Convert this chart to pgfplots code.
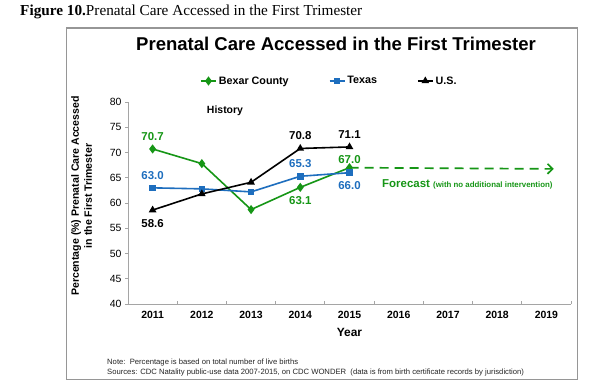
\documentclass[border=0pt]{standalone}
\usepackage{fontspec}
\setmainfont{Liberation Sans}
\newfontfamily\seriffont{Liberation Serif}
\usepackage{pgfplots}
\pgfplotsset{compat=1.18}
\usetikzlibrary{arrows.meta}
\definecolor{bexar}{RGB}{22,150,22}
\definecolor{texas}{RGB}{30,110,190}
\definecolor{axgray}{RGB}{165,165,165}
\definecolor{boxgray}{RGB}{150,150,150}
\begin{document}
\begin{tikzpicture}[x=1bp,y=1bp]
\useasboundingbox (0,0) rectangle (600,388);
\fill[white] (0,0) rectangle (600,388);
\draw[boxgray, line width=1bp] (66,9) rectangle (577,360);
\node[anchor=west, font=\seriffont\fontsize{15.3}{17}\selectfont, inner sep=0] at (20,376) {\textbf{Figure 10.}Prenatal Care Accessed in the First Trimester};
\node[font=\bfseries\fontsize{18.6}{21}\selectfont, inner sep=0] at (336,344) {Prenatal Care Accessed in the First Trimester};
\begin{axis}[
  at={(128bp,84bp)}, anchor=south west, scale only axis,
  width=443bp, height=202bp,
  xmin=2010.5, xmax=2019.5, ymin=40, ymax=80,
  axis x line=bottom, axis y line=left,
  axis line style={-, axgray, line width=0.8bp},
  xtick={2011,2012,2013,2014,2015,2016,2017,2018,2019},
  xticklabels={2011,2012,2013,2014,2015,2016,2017,2018,2019},
  minor xtick={2011.5,2012.5,2013.5,2014.5,2015.5,2016.5,2017.5,2018.5,2019.5},
  major x tick style={draw=none},
  minor x tick style={axgray, line width=0.8bp, yshift=3bp},
  minor tick length=3bp,
  ytick={40,45,...,80},
  major y tick style={axgray, line width=0.8bp},
  major tick length=3bp,
  tick align=outside,
  /pgf/number format/assume math mode=true,
  xticklabel style={font=\bfseries\fontsize{10.5}{12}\selectfont, yshift=-1bp},
  yticklabel style={font=\fontsize{10.5}{12}\selectfont},
  clip=false,
  legend style={at={(axis description cs:0.1625,1.104)}, anchor=west, draw=none, fill=none,
    inner sep=0pt, font=\bfseries\fontsize{10.8}{12}\selectfont,
    /tikz/every even column/.append style={column sep=38bp}},
  legend columns=3,
  legend image code/.code={\draw[mark repeat=2,mark phase=2,#1] plot coordinates {(0bp,0bp) (7.5bp,0bp) (15bp,0bp)};},
  legend cell align=left,
]
\addplot[bexar, line width=1.6bp, mark=diamond*, mark size=3.3bp, mark options={solid}] coordinates {
 (2011,70.7) (2012,67.8) (2013,58.7) (2014,63.1) (2015,67.0)};
\addlegendentry{Bexar County}
\addplot[texas, line width=1.6bp, mark=square*, mark size=2.5bp] coordinates {
 (2011,63.0) (2012,62.8) (2013,62.2) (2014,65.3) (2015,66.0)};
\addlegendentry{Texas}
\addplot[black, line width=1.6bp, mark=triangle*, mark size=2.9bp] coordinates {
 (2011,58.6) (2012,61.8) (2013,64.1) (2014,70.8) (2015,71.1)};
\addlegendentry{U.S.}
\addplot[bexar, line width=1.7bp, dash pattern=on 9bp off 6bp, -{Straight Barb[length=5bp,width=10bp,line width=1.7bp]}, forget plot] coordinates {
 (2015,67.0) (2019.15,66.75)};
\begin{scope}[every node/.style={font=\bfseries\fontsize{11.5}{13}\selectfont, inner sep=0}]
\node[bexar] at (axis cs:2011,70.7) [yshift=12bp] {70.7};
\node[texas] at (axis cs:2011,63.0) [yshift=12bp] {63.0};
\node[black] at (axis cs:2011,58.6) [yshift=-13bp] {58.6};
\node[black] at (axis cs:2014,70.8) [yshift=13bp] {70.8};
\node[black] at (axis cs:2015,71.1) [yshift=12bp] {71.1};
\node[texas] at (axis cs:2014,65.3) [yshift=13bp] {65.3};
\node[bexar] at (axis cs:2014,63.1) [yshift=-13bp] {63.1};
\node[bexar] at (axis cs:2015,67.0) [yshift=8bp] {67.0};
\node[texas] at (axis cs:2015,66.0) [yshift=-13bp] {66.0};
\end{scope}
\end{axis}
\node[font=\bfseries\fontsize{10.5}{12}\selectfont, inner sep=0] at (225,277) {History};
\node[anchor=west, bexar, inner sep=0] at (382,204) {\bfseries\fontsize{11.5}{13}\selectfont Forecast \fontsize{7.9}{9}\selectfont(with no additional intervention)};
\node[rotate=90, align=center, font=\bfseries\fontsize{10.6}{13}\selectfont, inner sep=0] at (81.5,192) {Percentage (\%) Prenatal Care Accessed\\in the First Trimester};
\node[font=\bfseries\fontsize{12}{14}\selectfont, inner sep=0] at (349.5,56) {Year};
\node[anchor=west, font=\fontsize{7.7}{9}\selectfont, inner sep=0, text=black!85] at (107,25) {Note:\ \ Percentage is based on total number of live births};
\node[anchor=west, font=\fontsize{7.7}{9}\selectfont, inner sep=0, text=black!85] at (107,15) {Sources: CDC Natality public-use data 2007-2015, on CDC WONDER\ \ (data is from birth certificate records by jurisdiction)};
\end{tikzpicture}
\end{document}
